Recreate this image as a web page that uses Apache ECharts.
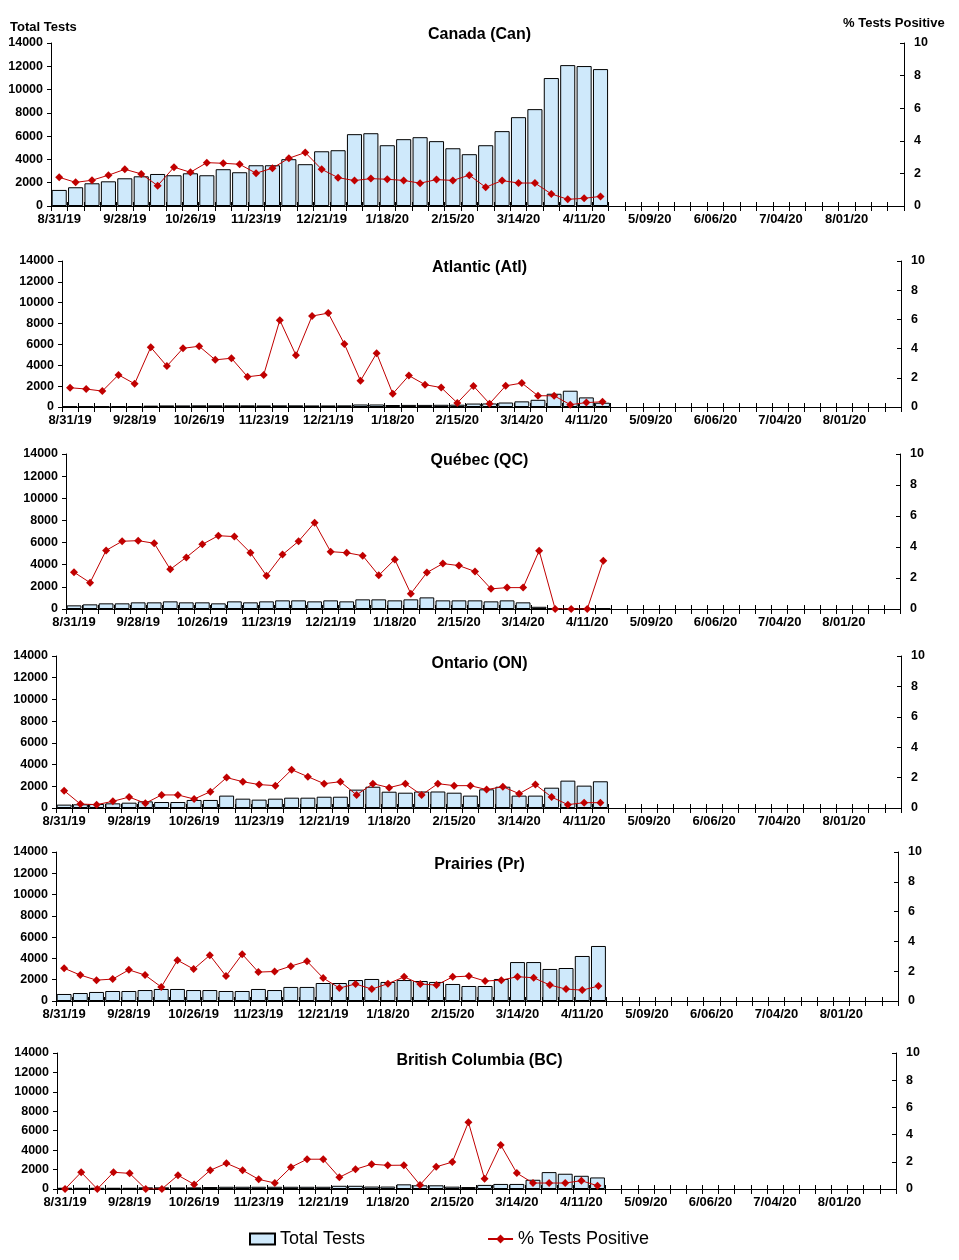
<!DOCTYPE html>
<html><head><meta charset="utf-8">
<script src="https://cdn.jsdelivr.net/npm/echarts@6/dist/echarts.min.js"></script>
<style>html,body{margin:0;padding:0;background:#fff}#c{width:959px;height:1260px}</style>
</head><body><div id="c"></div>
<script>
const weeks = ['8/31/19','9/07/19','9/14/19','9/21/19','9/28/19','10/05/19','10/12/19','10/19/19','10/26/19','11/02/19','11/09/19','11/16/19','11/23/19','11/30/19','12/07/19','12/14/19','12/21/19','12/28/19','1/04/20','1/11/20','1/18/20','1/25/20','2/01/20','2/08/20','2/15/20','2/22/20','2/29/20','3/07/20','3/14/20','3/21/20','3/28/20','4/04/20','4/11/20','4/18/20','4/25/20','5/02/20','5/09/20','5/16/20','5/23/20','5/30/20','6/06/20','6/13/20','6/20/20','6/27/20','7/04/20','7/11/20','7/18/20','7/25/20','8/01/20','8/08/20','8/15/20','8/22/20'];

const canadaTests = [1380,1610,1950,2120,2380,2550,2750,2640,2810,2640,3160,2900,3500,3500,4020,3590,4700,4790,6170,6250,5220,5740,5910,5570,4960,4450,5220,6430,7630,8320,10990,12100,12020,11760];
const canadaPos = [1.76,1.45,1.58,1.89,2.25,1.97,1.25,2.38,2.07,2.66,2.62,2.56,2.01,2.32,2.93,3.28,2.25,1.74,1.56,1.68,1.64,1.57,1.40,1.62,1.57,1.89,1.15,1.56,1.41,1.41,0.74,0.41,0.47,0.59];

const atlanticTests = [60,60,70,80,90,130,150,150,160,160,160,160,150,160,160,150,150,160,240,240,190,200,200,210,220,330,340,430,540,690,1270,1560,920,410];
const atlanticPos = [1.32,1.23,1.09,2.20,1.59,4.09,2.80,4.02,4.16,3.23,3.34,2.07,2.20,5.95,3.55,6.23,6.43,4.32,1.80,3.68,0.91,2.15,1.53,1.33,0.28,1.44,0.23,1.45,1.64,0.77,0.77,0.16,0.30,0.36];

const quebecTests = [330,420,510,510,600,600,690,600,600,510,690,600,690,780,780,690,780,690,870,870,780,870,1050,780,780,780,690,780,600,200,60,60,60,60];
const quebecPos = [2.37,1.70,3.78,4.37,4.41,4.24,2.56,3.33,4.17,4.73,4.67,3.63,2.15,3.51,4.37,5.57,3.70,3.63,3.44,2.17,3.20,0.99,2.35,2.93,2.80,2.42,1.30,1.38,1.38,3.76,0,0,0,3.11];

const ontarioTests = [310,340,370,430,490,610,550,550,740,740,1140,860,770,860,950,950,1040,1040,1690,1960,1500,1410,1520,1520,1410,1140,1720,1960,1140,1140,1870,2520,2060,2460];
const ontarioPos = [1.14,0.26,0.22,0.44,0.72,0.31,0.86,0.86,0.59,1.07,2.00,1.73,1.54,1.47,2.52,2.06,1.60,1.73,0.86,1.60,1.34,1.60,0.86,1.60,1.47,1.47,1.21,1.40,0.94,1.54,0.72,0.22,0.35,0.35];

const prairiesTests = [660,750,850,940,940,1030,1130,1130,1030,1030,940,940,1130,1030,1320,1320,1690,1690,1970,2070,1790,1970,1880,1790,1600,1410,1410,2070,3660,3660,3010,3100,4230,5170];
const prairiesPos = [2.20,1.74,1.40,1.47,2.09,1.74,0.94,2.74,2.14,3.07,1.67,3.14,1.94,1.98,2.34,2.67,1.54,0.87,1.14,0.80,1.16,1.62,1.14,1.07,1.62,1.67,1.34,1.40,1.63,1.56,1.07,0.80,0.73,1.00];

const bcTests = [130,130,130,130,130,170,170,160,170,200,230,230,230,230,230,230,230,330,330,250,250,480,380,380,240,200,420,520,520,950,1740,1570,1360,1190];
const bcPos = [0,1.23,0,1.23,1.15,0,0,1.01,0.34,1.38,1.89,1.38,0.71,0.44,1.60,2.19,2.19,0.86,1.45,1.82,1.74,1.75,0.30,1.63,1.98,4.91,0.75,3.24,1.17,0.44,0.44,0.44,0.61,0.24];

const panelTitles = ['Canada (Can)','Atlantic (Atl)','Québec (QC)','Ontario (ON)','Prairies (Pr)','British Columbia (BC)'];
const testsSeries = [canadaTests, atlanticTests, quebecTests, ontarioTests, prairiesTests, bcTests];
const posSeries = [canadaPos, atlanticPos, quebecPos, ontarioPos, prairiesPos, bcPos];

// layout (pixels)
const layout = [
  {left:51, right:55, top:43,  height:163, titleTop:22},
  {left:62, right:58, top:261, height:146, titleTop:255},
  {left:66, right:59, top:454, height:155, titleTop:448},
  {left:56, right:58, top:656, height:152, titleTop:651},
  {left:56, right:61, top:852, height:149, titleTop:852},
  {left:57, right:63, top:1053,height:136, titleTop:1048}
];

const FONT = '"Liberation Sans", Arial, Helvetica, sans-serif';
const BLACK = '#000';
const grids=[], xAxes=[], yAxes=[], series=[];
const titles = [
  {text:'Total Tests', left:5, top:16, textStyle:{fontFamily:FONT, fontSize:13, fontWeight:'bold', color:BLACK}},
  {text:'% Tests Positive', left:838, top:12, textStyle:{fontFamily:FONT, fontSize:13, fontWeight:'bold', color:BLACK}}
];

layout.forEach((p,i)=>{
  grids.push({left:p.left, right:p.right, top:p.top, height:p.height});
  titles.push({text:panelTitles[i], left:'center', top:p.titleTop, textStyle:{fontFamily:FONT, fontSize:16, fontWeight:'bold', color:BLACK}});
  xAxes.push({type:'category', gridIndex:i, position:'bottom', data:weeks, boundaryGap:true,
    axisLine:{onZero:false, lineStyle:{color:BLACK, width:1}},
    axisTick:{show:true, interval:0, length:5, lineStyle:{color:BLACK}},
    axisLabel:{interval:3, color:BLACK, fontFamily:FONT, fontWeight:'bold', fontSize:13, margin:7},
    splitLine:{show:false}});
  xAxes.push({type:'category', gridIndex:i, position:'bottom', data:weeks, boundaryGap:true,
    axisLine:{show:false, onZero:false},
    axisTick:{show:true, inside:true, interval:0, length:4, lineStyle:{color:BLACK}},
    axisLabel:{show:false}, splitLine:{show:false}});
  yAxes.push({type:'value', gridIndex:i, position:'left', min:0, max:14000, interval:2000,
    axisLine:{show:true, lineStyle:{color:BLACK}},
    axisTick:{show:true, length:4, lineStyle:{color:BLACK}},
    axisLabel:{color:BLACK, fontFamily:FONT, fontWeight:'bold', fontSize:12.5, margin:8, formatter:v=>String(v)},
    splitLine:{show:false}});
  yAxes.push({type:'value', gridIndex:i, position:'right', min:0, max:10, interval:2,
    axisLine:{show:true, lineStyle:{color:BLACK}},
    axisTick:{show:true, inside:true, length:4, lineStyle:{color:BLACK}},
    axisLabel:{color:BLACK, fontFamily:FONT, fontWeight:'bold', fontSize:12.5, margin:10, formatter:v=>String(v)},
    splitLine:{show:false}});
  series.push({type:'bar', name:'Total Tests', xAxisIndex:2*i, yAxisIndex:2*i, data:testsSeries[i],
    barCategoryGap:'8%', itemStyle:{color:'#cfe9fb', borderColor:BLACK, borderWidth:1}, z:2});
  series.push({type:'line', name:'% Tests Positive', xAxisIndex:2*i, yAxisIndex:2*i+1, data:posSeries[i],
    symbol:'diamond', symbolSize:8, lineStyle:{color:'#c00000', width:1}, itemStyle:{color:'#c00000'}, z:3});
});

const chart = echarts.init(document.getElementById('c'), null, {renderer:'canvas'});
chart.setOption({
  animation:false,
  backgroundColor:'#fff',
  title:titles,
  grid:grids, xAxis:xAxes, yAxis:yAxes, series:series,
  legend:{data:[{name:'Total Tests', icon:'rect'},{name:'% Tests Positive'}], left:244, top:1225,
    itemGap:122, itemWidth:25, itemHeight:11,
    textStyle:{fontFamily:FONT, fontSize:18, color:BLACK}}
});
</script></body></html>
